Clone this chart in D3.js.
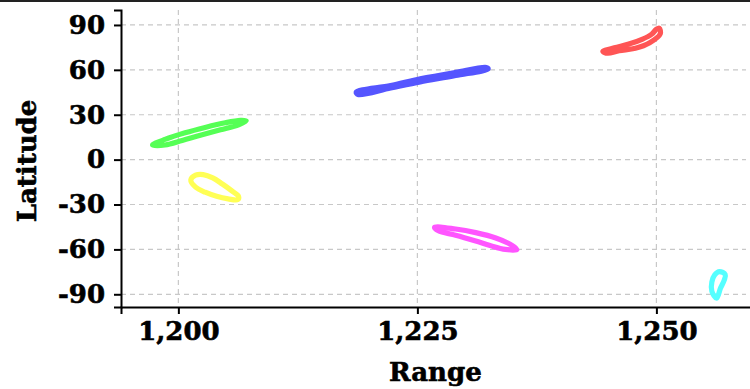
<!DOCTYPE html>
<html>
<head>
<meta charset="utf-8">
<script src="https://cdn.jsdelivr.net/npm/d3@7"></script>
<style>
  body { margin: 0; background: #fff; }
  svg { display: block; }
</style>
</head>
<body>
<div id="chart"></div>
<script>
// range ticks and latitude ticks
var rangeTicks = [1200, 1225, 1250];
var latTicks = [90, 60, 30, 0, -30, -60, -90];

// each track is a closed loop of [range, latitude] points
var greenTrack = [[1197.3, 9.8], [1198.6, 13.5], [1200.7, 17.9], [1202.8, 21.5], [1204.9, 24.6], [1206.5, 26.2],
    [1207.1, 25.9], [1206.3, 23.2], [1204.4, 19.9], [1202.3, 16.3], [1200.4, 12.8], [1198.6, 9.8]];
var yellowTrack = [[1201.3, -13.6], [1201.8, -10.4], [1202.6, -10.0], [1203.6, -12.2], [1204.6, -16.3], [1205.6, -20.9],
    [1206.3, -24.6], [1206.2, -26.8], [1205.2, -26.2], [1204.0, -24.5], [1202.8, -21.8], [1201.8, -18.4]];
var blueTrack = [[1218.6, 45.1], [1222.2, 49.5], [1225.3, 54.0], [1229.0, 58.3], [1232.2, 61.6],
    [1232.4, 60.6], [1229.0, 56.2], [1225.3, 51.9], [1222.2, 47.9], [1218.8, 43.5]];
var redTrack = [[1244.4, 72.4], [1245.6, 74.7], [1247.2, 77.4], [1248.5, 80.4], [1249.5, 83.8], [1250.0, 87.1],
    [1250.3, 87.8], [1250.4, 84.0], [1249.3, 78.1], [1247.8, 74.4], [1246.1, 72.8], [1244.9, 71.1]];
var magentaTrack = [[1226.8, -45.2], [1229.0, -46.4], [1231.1, -48.8], [1233.2, -52.4], [1234.9, -57.3],
    [1235.4, -60.2], [1234.2, -60.0], [1232.6, -57.4], [1231.1, -54.4], [1229.0, -50.5], [1227.2, -47.6]];
var cyanTrack = [[1256.6, -74.8], [1257.2, -76.8], [1257.1, -80.5], [1256.7, -86.0], [1256.3, -92.6],
    [1255.8, -88.0], [1255.8, -81.8], [1256.1, -77.0]];

var tracks = [greenTrack, yellowTrack, blueTrack, redTrack, magentaTrack, cyanTrack];
var trackColors = ["#55ff55", "#ffff55", "#5555ff", "#ff5555", "#ff55ff", "#55ffff"];

var width = 750,
    height = 389,
    margin = {top: 10, left: 121, bottom: 82};

var svg = d3.select("#chart").append("svg")
    .attr("width", width)
    .attr("height", height);

// thin dark rule along the top edge
svg.append("rect")
    .attr("x", 0).attr("y", 0)
    .attr("width", width).attr("height", 2)
    .style("fill", "#222");

var x = d3.scaleLinear().domain([1194, 1260]).range([margin.left, 752]);
var y = d3.scaleLinear().domain([-98.5, 100]).range([height - margin.bottom, margin.top]);

var grid = svg.append("g").attr("class", "grid");
grid.selectAll("line.h")
    .data(latTicks)
    .enter().append("line")
    .attr("x1", margin.left).attr("x2", 746)
    .attr("y1", function(d) { return y(d); })
    .attr("y2", function(d) { return y(d); });
grid.selectAll("line.v")
    .data(rangeTicks)
    .enter().append("line")
    .attr("x1", function(d) { return x(d); })
    .attr("x2", function(d) { return x(d); })
    .attr("y1", margin.top).attr("y2", height - margin.bottom);
grid.selectAll("line")
    .style("stroke", "#c8c8c8")
    .style("stroke-width", 1.2)
    .style("stroke-dasharray", "5,4");

var line = d3.line()
    .x(function(d) { return x(d[0]); })
    .y(function(d) { return y(d[1]); })
    .curve(d3.curveCatmullRomClosed.alpha(0.5));

svg.append("g").selectAll("path")
    .data(tracks)
    .enter().append("path")
    .attr("d", line)
    .style("fill", "none")
    .style("stroke", function(d, i) { return trackColors[i]; })
    .style("stroke-width", 5.2)
    .style("stroke-linejoin", "round");

var font = "'DejaVu Serif', serif";

var xAxis = svg.append("g")
    .attr("transform", "translate(0," + (height - margin.bottom) + ")")
    .call(d3.axisBottom(x).tickValues(rangeTicks).tickSizeOuter(0).tickSize(7).tickPadding(8)
        .tickFormat(d3.format(",")));

var yAxis = svg.append("g")
    .attr("transform", "translate(" + margin.left + ",0)")
    .call(d3.axisLeft(y).tickValues(latTicks).tickSizeOuter(0).tickSize(7).tickPadding(9)
        .tickFormat(function(d) { return String(d); }));

[xAxis, yAxis].forEach(function(a) {
    a.select(".domain").style("stroke", "#000").style("stroke-width", 2);
    a.selectAll(".tick line").style("stroke", "#000").style("stroke-width", 2);
    a.selectAll(".tick text")
        .style("font-family", font)
        .style("font-weight", "bold")
        .style("font-size", "26px")
        .style("fill", "#000")
        .style("stroke", "#000")
        .style("stroke-width", 0.6);
});

svg.append("text")
    .attr("x", x(1225) + 18)
    .attr("y", 381)
    .attr("text-anchor", "middle")
    .style("font-family", font)
    .style("font-weight", "bold")
    .style("font-size", "26px")
    .style("stroke", "#000")
    .style("stroke-width", 0.6)
    .text("Range");

svg.append("text")
    .attr("transform", "translate(36," + 161 + ") rotate(-90)")
    .attr("text-anchor", "middle")
    .style("font-family", font)
    .style("font-weight", "bold")
    .style("font-size", "26px")
    .style("stroke", "#000")
    .style("stroke-width", 0.6)
    .text("Latitude");
</script>
</body>
</html>
